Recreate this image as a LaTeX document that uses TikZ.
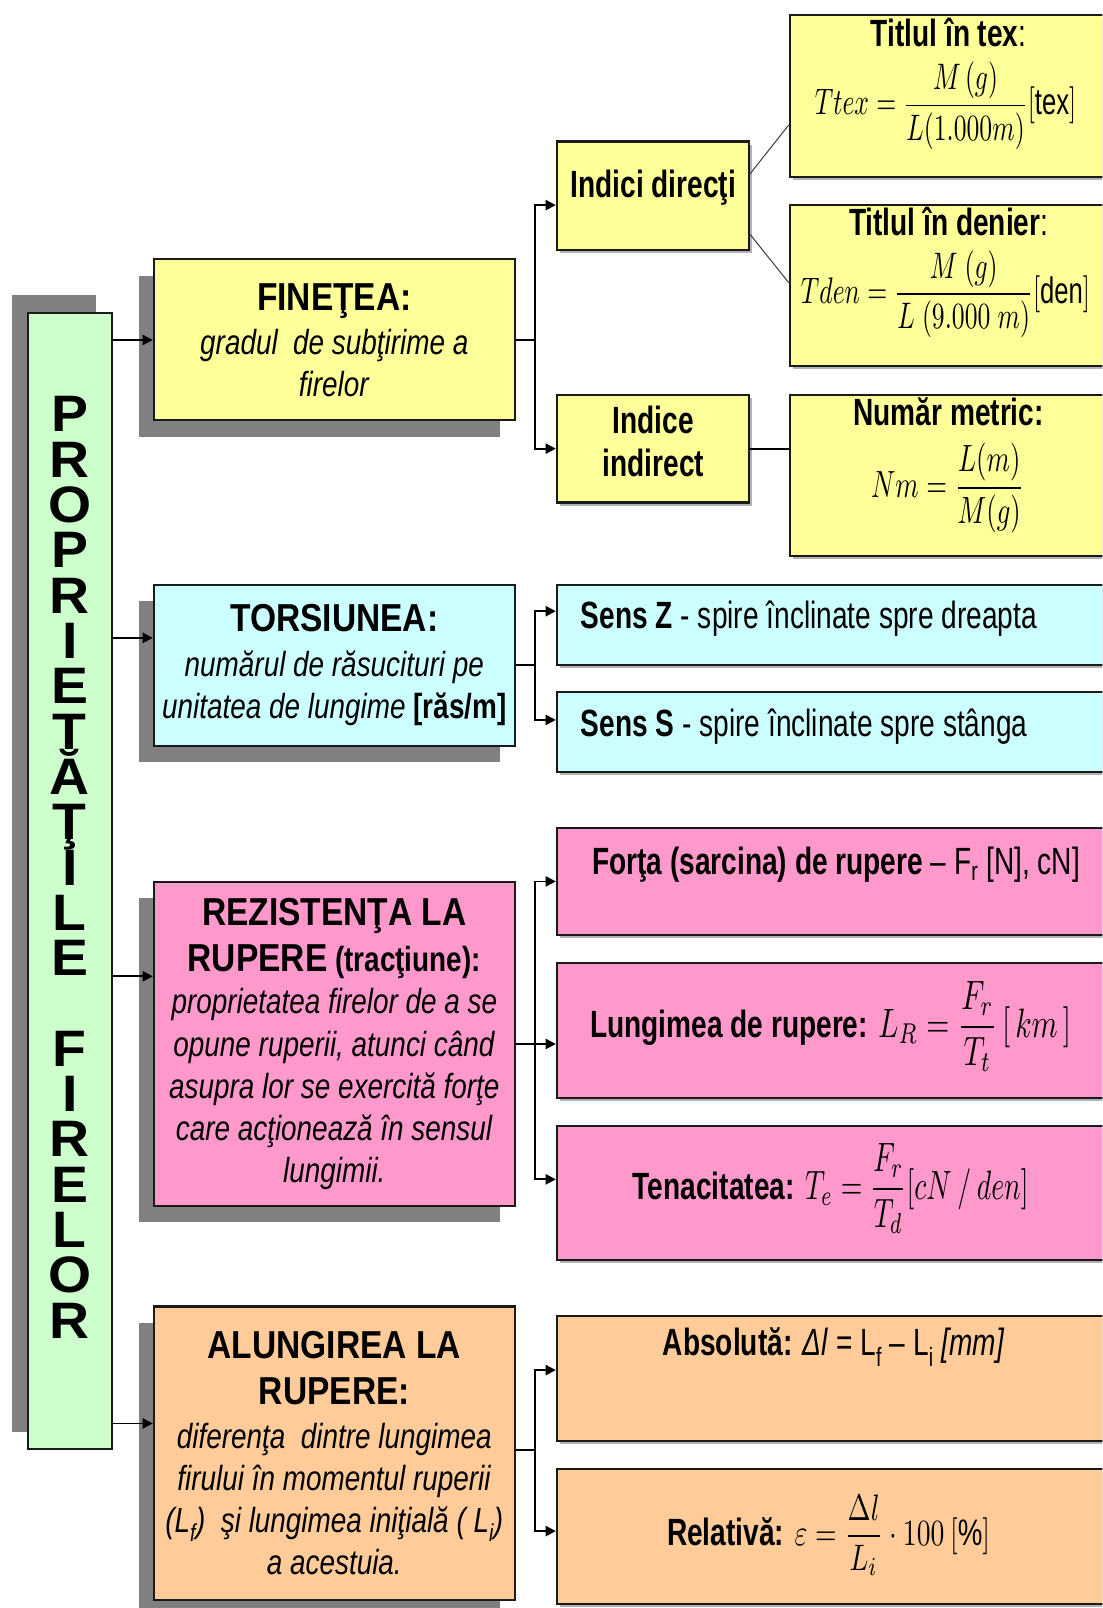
\documentclass[tikz,border=0pt]{standalone}
\usepackage{graphicx}
\usepackage{fontspec}
\setmainfont{Liberation Sans}
\newfontfamily\ftitle{Liberation Sans}[FakeStretch=0.86]
\newfontfamily\fdesc{Liberation Sans}[FakeStretch=0.80]
\newfontfamily\fnar{Liberation Sans}[FakeStretch=0.74]
\newfontfamily\fwide{Liberation Sans}[FakeStretch=1.08]
\usetikzlibrary{arrows.meta,shadows}

\definecolor{cyel}{HTML}{FFFF99}
\definecolor{ccya}{HTML}{CCFFFF}
\definecolor{cpink}{HTML}{FF99CC}
\definecolor{corg}{HTML}{FFCC99}
\definecolor{cgrn}{HTML}{CCFFCC}
\definecolor{cshd}{HTML}{808080}
\definecolor{cbrd}{HTML}{1A1A1A}

\newcommand{\ttlfont}{\ftitle\bfseries\fontsize{38}{44}\selectfont}
% math typeset at 10pt, then scaled: #1 = horizontal factor, #2 = vertical factor
\newcommand{\mathsc}[3]{\scalebox{#1}[#2]{\fontsize{10}{12}\selectfont$\displaystyle #3$}}

\tikzset{
  rbox/.style={draw=cbrd, line width=2pt, rectangle, inner sep=0pt},
  mainbox/.style={rbox, minimum width=352pt, align=center,
    font=\fdesc\fontsize{34}{41}\selectfont,
    drop shadow={shadow xshift=-14pt, shadow yshift=-16pt, fill=cshd, opacity=1}},
  subbox/.style={rbox,
    drop shadow={shadow xshift=3pt, shadow yshift=-3pt, fill=black!30, opacity=1}},
  conn/.style={line width=1.8pt, draw=black},
  arr/.style={conn, -{Triangle[length=10pt,width=10pt]}},
  diag/.style={line width=1pt, draw=black!75},
  ttl/.style={font=\fnar\bfseries\fontsize{37}{42}\selectfont},
  nar/.style={font=\fnar\fontsize{37}{42}\selectfont},
  letter/.style={font=\fwide\bfseries\fontsize{50}{50}\selectfont, anchor=base,
    inner sep=0pt, text height=36pt, text depth=0pt},
}

\begin{document}
\begin{tikzpicture}[x=1pt,y=-1pt]
\useasboundingbox (0,0) rectangle (1075,1568);
\clip (0,0) rectangle (1075,1568);

% ---- main vertical box ----
\node[rbox, fill=cgrn, minimum width=82pt, minimum height=1108pt,
  drop shadow={shadow xshift=-15pt, shadow yshift=17pt, fill=cshd, opacity=1}]
  (grn) at (68,859) {};
\foreach \c [count=\i from 0] in {P,R,O,P,R,I,E,T,Ă,Ţ,I,L,E}
  \node[letter] (ga\i) at (68,421+44.2*\i) {\c};
\foreach \c [count=\i from 14] in {F,I,R,E,L,O,R}
  \node[letter] (gb\i) at (68,421+44.2*\i) {\c};

% ---- left column ----
\node[mainbox, fill=cyel, minimum height=157pt] (fin) at (326,331.5)
  {{\ttlfont FINEŢEA:}\\[2pt]
   \textit{gradul~ de subţirime a}\\
   \textit{firelor}};
\node[mainbox, fill=ccya, minimum height=157pt] (tor) at (326,648.5)
  {{\ttlfont TORSIUNEA:}\\[2pt]
   \textit{numărul de răsucituri pe}\\
   \textit{unitatea de lungime} \textbf{[răs/m]}};
\node[mainbox, fill=cpink, minimum height=316pt] (rez) at (326,1018)
  {{\ttlfont REZISTENŢA LA}\\[4pt]
   {\ttlfont RUPERE} \textbf{(tracţiune):}\\
   \textit{proprietatea firelor de a se}\\
   \textit{opune ruperii, atunci când}\\
   \textit{asupra lor se exercită forţe}\\
   \textit{care acţionează în sensul}\\
   \textit{lungimii.}};
\node[mainbox, fill=corg, minimum height=286pt] (alu) at (326,1417)
  {{\ttlfont ALUNGIREA LA}\\[4pt]
   {\ttlfont RUPERE:}\\[2pt]
   \textit{diferenţa~ dintre lungimea}\\
   \textit{firului în momentul ruperii}\\
   \textit{(L\textsubscript{f})~ şi lungimea iniţială ( L\textsubscript{i})}\\
   \textit{a acestuia.}};

% ---- middle / right boxes ----
\node[subbox, fill=cyel, minimum width=187pt, minimum height=106pt] (id) at (636.5,191) {};
\node[subbox, fill=cyel, minimum width=187pt, minimum height=105pt] (ii) at (636.5,437.5) {};
\node[subbox, fill=cyel, minimum width=315pt, minimum height=158pt] (tex) at (927.5,94) {};
\node[subbox, fill=cyel, minimum width=315pt, minimum height=157pt] (den) at (927.5,278.5) {};
\node[subbox, fill=cyel, minimum width=315pt, minimum height=157pt] (nm) at (927.5,463.5) {};
\node[subbox, fill=ccya, minimum width=542pt, minimum height=78pt] (sz) at (814,609) {};
\node[subbox, fill=ccya, minimum width=542pt, minimum height=78pt] (ss) at (814,714) {};
\node[subbox, fill=cpink, minimum width=542pt, minimum height=105pt] (fo) at (814,859.5) {};
\node[subbox, fill=cpink, minimum width=542pt, minimum height=132pt] (lu) at (814,1005) {};
\node[subbox, fill=cpink, minimum width=542pt, minimum height=131pt] (te) at (814,1163.5) {};
\node[subbox, fill=corg, minimum width=542pt, minimum height=122pt] (ab) at (814,1344) {};
\node[subbox, fill=corg, minimum width=542pt, minimum height=132pt] (re) at (814,1498) {};

% ---- texts in the right boxes ----
\node[ttl, anchor=base] (idt) at (637,193) {Indici direcţi};
\node[ttl, align=center] (iit) at (637,430) {Indice\\indirect};

\node[ttl, anchor=base] (text) at (925,45) {Titlul în tex{\mdseries :}};
\node (texf) at (922,103)
  {\mathsc{2.5}{3.6}{Ttex=\frac{M\,(g)}{L(1.000m)}[\mathrm{tex}]}};
\node[ttl, anchor=base] (dent) at (925,230) {Titlul în denier{\mdseries :}};
\node (denf) at (922,287)
  {\mathsc{2.5}{3.6}{Tden=\frac{M\ (g)}{L\ (9.000\ m)}[\mathrm{den}]}};
\node[ttl, anchor=base] (nmt) at (925,415) {Număr metric:};
\node (nmf) at (924,476)
  {\mathsc{2.6}{3.7}{Nm=\frac{L(m)}{M(g)}}};

\node[nar, anchor=base west] (szt) at (563,613)
  {\textbf{Sens Z} - spire înclinate spre dreapta};
\node[nar, anchor=base west] (sst) at (563,718)
  {\textbf{Sens S} - spire înclinate spre stânga};

\node[nar, anchor=base west] (fot) at (574,853)
  {\textbf{Forţa (sarcina) de rupere} – F\textsubscript{r} [N], cN]};
\node[nar] (lut) at (810,1001)
  {\textbf{Lungimea de rupere:} \mathsc{2.9}{4.0}{L_R=\frac{F_r}{T_t}\,[\,km\,]}};
\node[nar] (tet) at (810,1159)
  {\textbf{Tenacitatea:} \mathsc{2.7}{4.0}{T_e=\frac{F_r}{T_d}[cN\ /\ den]}};

\node[nar, anchor=base] (abt) at (813,1322)
  {\textbf{Absolută:} \textit{Δl} = L\textsubscript{f} – L\textsubscript{i} \textit{[mm]}};
\node[nar] (ret) at (808,1497)
  {\textbf{Relativă:} \mathsc{2.7}{3.6}{\varepsilon=\frac{\Delta l}{L_i}\cdot 100\ [\%]}};

% ---- connectors ----
\coordinate (bx) at (522,0);

\draw[arr] (grn.east |- fin.west) -- (fin.west);
\coordinate (torin) at ([yshift=26.5pt]tor.west);
\draw[arr] (grn.east |- torin) -- (torin);
\coordinate (rezin) at ([yshift=66pt]rez.west);
\draw[arr] (grn.east |- rezin) -- (rezin);
\coordinate (aluin) at ([yshift=29pt]alu.west);
\draw[arr] (grn.east |- aluin) -- (aluin);

\coordinate (idin) at ([yshift=-9pt]id.west);
\draw[arr] (fin.east) -- (fin.east -| bx) |- (idin);
\draw[arr] (fin.east -| bx) |- (ii.west);

\coordinate (szin) at ([yshift=13pt]sz.west);
\coordinate (ssin) at ([yshift=12pt]ss.west);
\draw[arr] (tor.east) -- (tor.east -| bx) |- (szin);
\draw[arr] (tor.east -| bx) |- (ssin);

\coordinate (luin) at ([yshift=-13pt]lu.west);
\coordinate (tein) at ([yshift=13.5pt]te.west);
\draw[arr] (rez.east) -- (rez.east -| bx) |- (fo.west);
\draw[arr] (rez.east -| bx) |- (luin);
\draw[arr] (rez.east -| bx) |- (tein);

\coordinate (aluout) at ([yshift=3pt]alu.east);
\coordinate (abin) at ([yshift=8pt]ab.west);
\coordinate (rein) at ([yshift=5pt]re.west);
\draw[arr] (aluout) -- (aluout -| bx) |- (abin);
\draw[arr] (aluout -| bx) |- (rein);

\draw[diag] ([yshift=21pt]id.east) -- ([yshift=-28pt]tex.west);
\draw[diag] ([yshift=-37pt]id.east) -- ([yshift=3pt]den.west);
\draw[conn] (ii.east) -- (ii.east -| nm.west);
\end{tikzpicture}
\end{document}
